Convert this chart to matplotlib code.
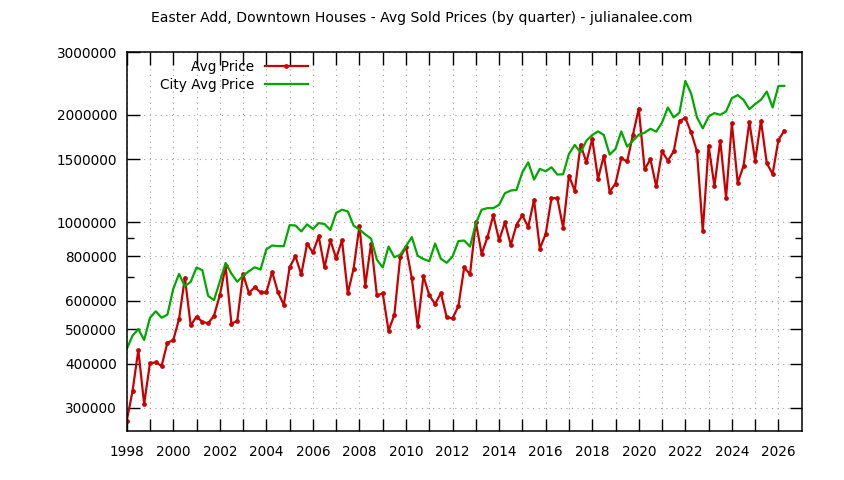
import numpy as np
import matplotlib
matplotlib.use("Agg")
import matplotlib.pyplot as plt
from matplotlib.ticker import FixedLocator, NullFormatter, FuncFormatter

# quarterly series, 1998 Q1 .. 2026 Q2
start_year = 1998
avg_price = [
    276000, 334000, 437000, 308000, 401000, 403000, 394000, 458000, 465000, 534000,
    698000, 512000, 542000, 524000, 519000, 545000, 622000, 751000, 518000, 527000,
    713000, 632000, 656000, 634000, 634000, 724000, 634000, 585000, 746000, 801000,
    712000, 868000, 821000, 911000, 745000, 889000, 790000, 889000, 630000, 740000,
    977000, 663000, 870000, 622000, 630000, 495000, 548000, 796000, 851000, 695000,
    511000, 704000, 622000, 588000, 631000, 539000, 536000, 580000, 745000, 713000,
    1000000, 813000, 907000, 1044000, 889000, 997000, 862000, 983000, 1044000, 968000,
    1155000, 842000, 925000, 1167000, 1167000, 964000, 1351000, 1224000, 1650000, 1472000,
    1713000, 1323000, 1537000, 1216000, 1283000, 1512000, 1480000, 1760000, 2085000, 1407000,
    1501000, 1259000, 1580000, 1488000, 1580000, 1926000, 1960000, 1786000, 1580000, 943000,
    1639000, 1261000, 1693000, 1170000, 1893000, 1289000, 1438000, 1914000, 1488000, 1926000,
    1462000, 1366000, 1700000, 1806000,
]
city_avg_price = [
    439000, 479000, 500000, 466000, 538000, 561000, 538000, 549000, 648000, 715000,
    660000, 679000, 745000, 732000, 620000, 603000, 679000, 767000, 716000, 679000,
    707000, 727000, 746000, 735000, 838000, 859000, 856000, 855000, 980000, 978000,
    941000, 985000, 956000, 993000, 987000, 950000, 1061000, 1083000, 1071000, 977000,
    953000, 923000, 898000, 783000, 745000, 853000, 796000, 809000, 855000, 907000,
    804000, 787000, 776000, 870000, 788000, 768000, 800000, 884000, 887000, 853000,
    991000, 1083000, 1094000, 1094000, 1118000, 1205000, 1226000, 1232000, 1380000, 1472000,
    1316000, 1411000, 1389000, 1425000, 1360000, 1362000, 1554000, 1647000, 1570000, 1693000,
    1756000, 1798000, 1756000, 1547000, 1605000, 1798000, 1629000, 1693000, 1760000, 1783000,
    1829000, 1794000, 1905000, 2099000, 1968000, 2032000, 2493000, 2297000, 1968000, 1833000,
    1980000, 2024000, 2002000, 2045000, 2230000, 2274000, 2206000, 2077000, 2145000, 2206000,
    2327000, 2099000, 2414000, 2414000,
]
y_ticks = [300000, 400000, 500000, 600000, 800000, 1000000, 1500000, 2000000, 3000000]
y_minor = [700000, 900000]
x_labels = list(range(1998, 2027, 2))
title = "Easter Add, Downtown Houses - Avg Sold Prices (by quarter) - julianalee.com"

plt.rcParams['font.family'] = ['DejaVu Sans']
plt.rcParams['font.size'] = 9.5

t = start_year + np.arange(len(avg_price)) * 0.25

fig = plt.figure(figsize=(8.44, 4.8), dpi=100)
ax = fig.add_axes([0.1501, 0.1021, 0.7998, 0.7889])

ax.plot(t, avg_price, color='#c80000', lw=1.6, marker='o', ms=2.4,
        label='Avg Price')
ax.plot(t, city_avg_price, color='#00a800', lw=1.6, label='City Avg Price')

ax.set_yscale('log')
ax.set_ylim(258500, 3000000)
ax.set_xlim(1998, 2027)

ax.yaxis.set_major_locator(FixedLocator(y_ticks))
ax.yaxis.set_major_formatter(FuncFormatter(lambda v, p: f"{int(round(v))}"))
ax.yaxis.set_minor_locator(FixedLocator(y_minor))
ax.yaxis.set_minor_formatter(NullFormatter())

ax.xaxis.set_major_locator(FixedLocator(x_labels))
ax.xaxis.set_minor_locator(FixedLocator(list(range(1999, 2027, 2))))
ax.xaxis.set_minor_formatter(NullFormatter())

ax.tick_params(axis='both', which='both', direction='in', top=True, right=True,
               width=1, color='black', labelsize=9.8)
ax.tick_params(axis='x', which='both', length=9, pad=10)
ax.tick_params(axis='y', which='major', length=9, pad=7)
ax.tick_params(axis='y', which='minor', length=5)

grid_kw = dict(color='#a0a0a0', lw=0.8, linestyle=(0, (1, 4)))
ax.grid(True, axis='y', which='major', **grid_kw)
ax.grid(True, axis='x', which='both', **grid_kw)

for s in ax.spines.values():
    s.set_linewidth(1.1)

ax.legend(loc='upper right', bbox_to_anchor=(0.285, 1.008), frameon=False,
          markerfirst=False, handlelength=3.2, handletextpad=0.75,
          labelspacing=0.25, borderpad=0.3, fontsize=9.8)

fig.text(0.5, 1 - 18 / 480, title, ha='center', va='center', fontsize=10.1)

fig.savefig('out.png', dpi=100)
